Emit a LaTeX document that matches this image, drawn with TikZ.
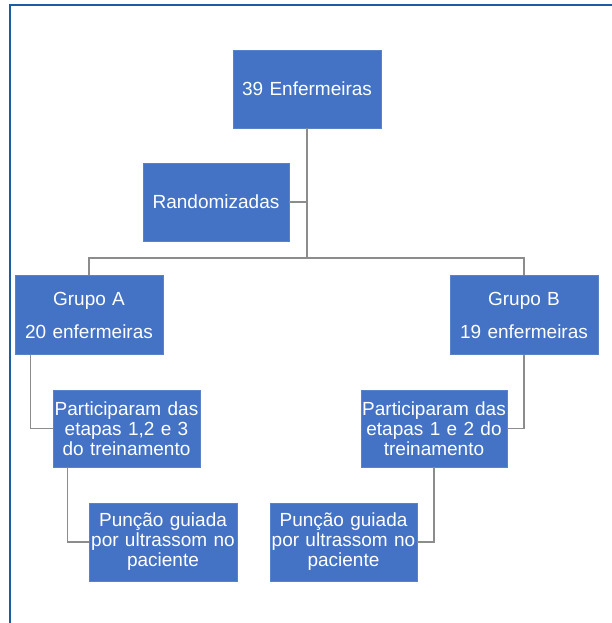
\documentclass[tikz,border=0pt]{standalone}
\usepackage{fontspec}
\setmainfont{Liberation Sans}
\definecolor{frameblue}{RGB}{28,92,160}
\definecolor{boxblue}{RGB}{68,114,196}
\definecolor{boxedge}{RGB}{90,130,200}
\definecolor{linegray}{RGB}{140,140,140}
\begin{document}
\begin{tikzpicture}[x=1pt,y=-1pt,
  orgbox/.style={draw=boxedge,line width=0.6pt,fill=boxblue,text=white,inner sep=0pt,
    align=center,font=\fontsize{19}{20}\selectfont},
  link/.style={draw=linegray,line width=1.3pt}]
\useasboundingbox (0,0) rectangle (612,623);
\fill[white] (0,0) rectangle (612,623);
% frame
\draw[frameblue,line width=2.6pt] (10,640) -- (10,5) -- (640,5);
% boxes
\node[orgbox,minimum width=148pt,minimum height=78pt,text width=148pt] (top) at (307,89) {39 Enfermeiras};
\node[orgbox,minimum width=146pt,minimum height=78pt,text width=146pt] (rand) at (216,202) {Randomizadas};
\node[orgbox,minimum width=148pt,minimum height=79pt,text width=148pt] (ga) at (89,315) {Grupo A\\[13pt]20 enfermeiras};
\node[orgbox,minimum width=148pt,minimum height=79pt,text width=148pt] (gb) at (524,315) {Grupo B\\[13pt]19 enfermeiras};
\node[orgbox,minimum width=147pt,minimum height=77pt,text width=147pt] (pa) at (126.5,428.5) {Participaram das\\etapas 1,2 e 3\\do treinamento};
\node[orgbox,minimum width=146pt,minimum height=77pt,text width=146pt] (pb) at (434,428.5) {Participaram das\\etapas 1 e 2 do\\treinamento};
\node[orgbox,minimum width=148pt,minimum height=78pt,text width=148pt] (ua) at (163,542) {Punção guiada\\por ultrassom no\\paciente};
\node[orgbox,minimum width=147pt,minimum height=78pt,text width=147pt] (ub) at (343.5,542) {Punção guiada\\por ultrassom no\\paciente};
% connectors
\coordinate (bus) at (307,258);
\draw[link] (top.south) -- (bus);
\draw[link] (rand.east) -- (rand.east -| bus);
\draw[link] (ga.north) -- (ga.north |- bus) -- (gb.north |- bus) -- (gb.north);
\draw[link] ([xshift=16pt]ga.south west) |- (pa.west);
\draw[link] (gb.south) |- (pb.east);
\draw[link] ([xshift=15pt]pa.south west) |- (ua.west);
\draw[link] (pb.south) |- (ub.east);
\end{tikzpicture}
\end{document}
